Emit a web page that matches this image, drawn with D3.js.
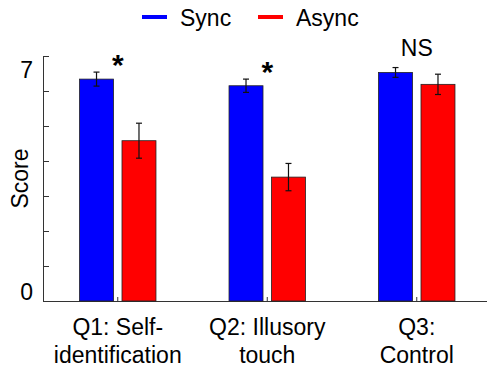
<!DOCTYPE html>
<html>
<head>
<meta charset="utf-8">
<script src="https://cdn.jsdelivr.net/npm/d3@7"></script>
<style>
  body { margin: 0; background: #fff; }
  text { font-family: 'Liberation Sans', Arial, sans-serif; fill: #000; }
</style>
</head>
<body>
<div class="vis"></div>
<script>
// data
const categories = ['Q1', 'Q2', 'Q3']
const categoryLines = [['Q1: Self-', 'identification'], ['Q2: Illusory', 'touch'], ['Q3:', 'Control']]
const seriesKeys = ['Sync', 'Async']
const syncMeans = [6.34, 6.15, 6.53]
const syncErrors = [0.2, 0.19, 0.14]
const asyncMeans = [4.58, 3.54, 6.19]
const asyncErrors = [0.5, 0.39, 0.29]
const significance = ['*', '*', 'NS']
const yTicks = [0, 1, 2, 3, 4, 5, 6, 7]
const yTickLabels = { 0: '0', 7: '7' }

const color = d3.scaleOrdinal().domain(seriesKeys).range(['#0000ff', '#ff0000'])

const width = 487
const height = 368

const svg = d3
  .select('.vis')
  .append('svg')
  .attr('width', width)
  .attr('height', height)

// plot box (the right end runs past the crop)
const plotLeft = 43
const plotRight = 491.5
const plotTop = 56
const plotBottom = 301

const x = d3.scaleBand().domain(categories).range([plotLeft, plotRight]).padding(0)
const xInner = d3
  .scaleBand()
  .domain(seriesKeys)
  .range([0, x.bandwidth()])
  .paddingInner(0.2)
  .paddingOuter(0.86)
const y = d3.scaleLinear().domain([0, 7]).range([plotBottom, plotTop])

const data = categories.map((c, i) => ({
  cat: c,
  values: [
    { key: 'Sync', mean: syncMeans[i], err: syncErrors[i] },
    { key: 'Async', mean: asyncMeans[i], err: asyncErrors[i] }
  ]
}))

// axes
const yAxis = d3
  .axisLeft(y)
  .tickValues(yTicks)
  .tickSize(-6)
  .tickPadding(10)
  .tickFormat(d => yTickLabels[d] || '')

const yG = svg
  .append('g')
  .attr('class', 'y axis')
  .attr('transform', `translate(${plotLeft},0)`)
  .call(yAxis)

yG.select('.domain').attr('stroke', '#333')
yG.selectAll('.tick line').attr('stroke', '#333')
yG
  .selectAll('.tick text')
  .style('font-size', '23px')
  .attr('dy', d => (d === 7 ? '0.95em' : d === 0 ? '-0.05em' : '0.32em'))

const xAxis = d3.axisBottom(x).tickSize(-4).tickFormat('')

const xG = svg
  .append('g')
  .attr('class', 'x axis')
  .attr('transform', `translate(0,${plotBottom})`)
  .call(xAxis)

xG.select('.domain').attr('stroke', '#333')
xG.selectAll('.tick line').attr('stroke', '#333')

xG
  .selectAll('.tick')
  .append('text')
  .attr('text-anchor', 'middle')
  .style('font-size', '23px')
  .selectAll('tspan')
  .data((d, i) => categoryLines[i])
  .enter()
  .append('tspan')
  .attr('x', 0)
  .attr('y', (d, i) => 34 + i * 27.5)
  .text(d => d)

// y label
svg
  .append('text')
  .attr('transform', `translate(27.5,${(plotTop + plotBottom) / 2}) rotate(-90)`)
  .attr('text-anchor', 'middle')
  .style('font-size', '23px')
  .text('Score')

// bars
const group = svg
  .selectAll('.group')
  .data(data)
  .enter()
  .append('g')
  .attr('class', 'group')
  .attr('transform', d => `translate(${x(d.cat)},0)`)

group
  .selectAll('rect')
  .data(d => d.values)
  .enter()
  .append('rect')
  .attr('x', d => xInner(d.key))
  .attr('y', d => y(d.mean))
  .attr('width', xInner.bandwidth())
  .attr('height', d => y(0) - y(d.mean))
  .attr('fill', d => color(d.key))
  .attr('stroke', '#222')
  .attr('stroke-width', 0.8)

// error bars
const err = group
  .selectAll('.err')
  .data(d => d.values)
  .enter()
  .append('g')
  .attr('class', 'err')
  .attr('stroke', '#111')
  .attr('stroke-width', 1.2)

err
  .append('line')
  .attr('x1', d => xInner(d.key) + xInner.bandwidth() / 2)
  .attr('x2', d => xInner(d.key) + xInner.bandwidth() / 2)
  .attr('y1', d => y(d.mean + d.err))
  .attr('y2', d => y(d.mean - d.err))

err
  .selectAll('.cap')
  .data(d => [
    { key: d.key, v: d.mean + d.err },
    { key: d.key, v: d.mean - d.err }
  ])
  .enter()
  .append('line')
  .attr('x1', d => xInner(d.key) + xInner.bandwidth() / 2 - 3)
  .attr('x2', d => xInner(d.key) + xInner.bandwidth() / 2 + 3)
  .attr('y1', d => y(d.v))
  .attr('y2', d => y(d.v))

// significance marks
group
  .append('text')
  .attr('x', x.bandwidth() / 2)
  .attr('y', (d, i) => {
    const hi = d3.max(d.values, v => v.mean + v.err)
    return significance[i] === 'NS' ? y(hi) - 12 : y(hi) + 3
  })
  .attr('text-anchor', 'middle')
  .style('font-size', (d, i) => (significance[i] === 'NS' ? '23px' : '30px'))
  .style('font-weight', (d, i) => (significance[i] === 'NS' ? 'normal' : 'bold'))
  .text((d, i) => significance[i])

// legend
const legend = svg
  .append('g')
  .attr('class', 'legend')
  .attr('transform', 'translate(142,17)')

const item = legend
  .selectAll('.item')
  .data(seriesKeys)
  .enter()
  .append('g')
  .attr('class', 'item')
  .attr('transform', (d, i) => `translate(${i * 116},0)`)

item
  .append('line')
  .attr('x1', 0)
  .attr('x2', 25)
  .attr('stroke', d => color(d))
  .attr('stroke-width', 4)

item
  .append('text')
  .attr('x', 38)
  .attr('y', 8.5)
  .style('font-size', '23px')
  .text(d => d)
</script>
</body>
</html>
